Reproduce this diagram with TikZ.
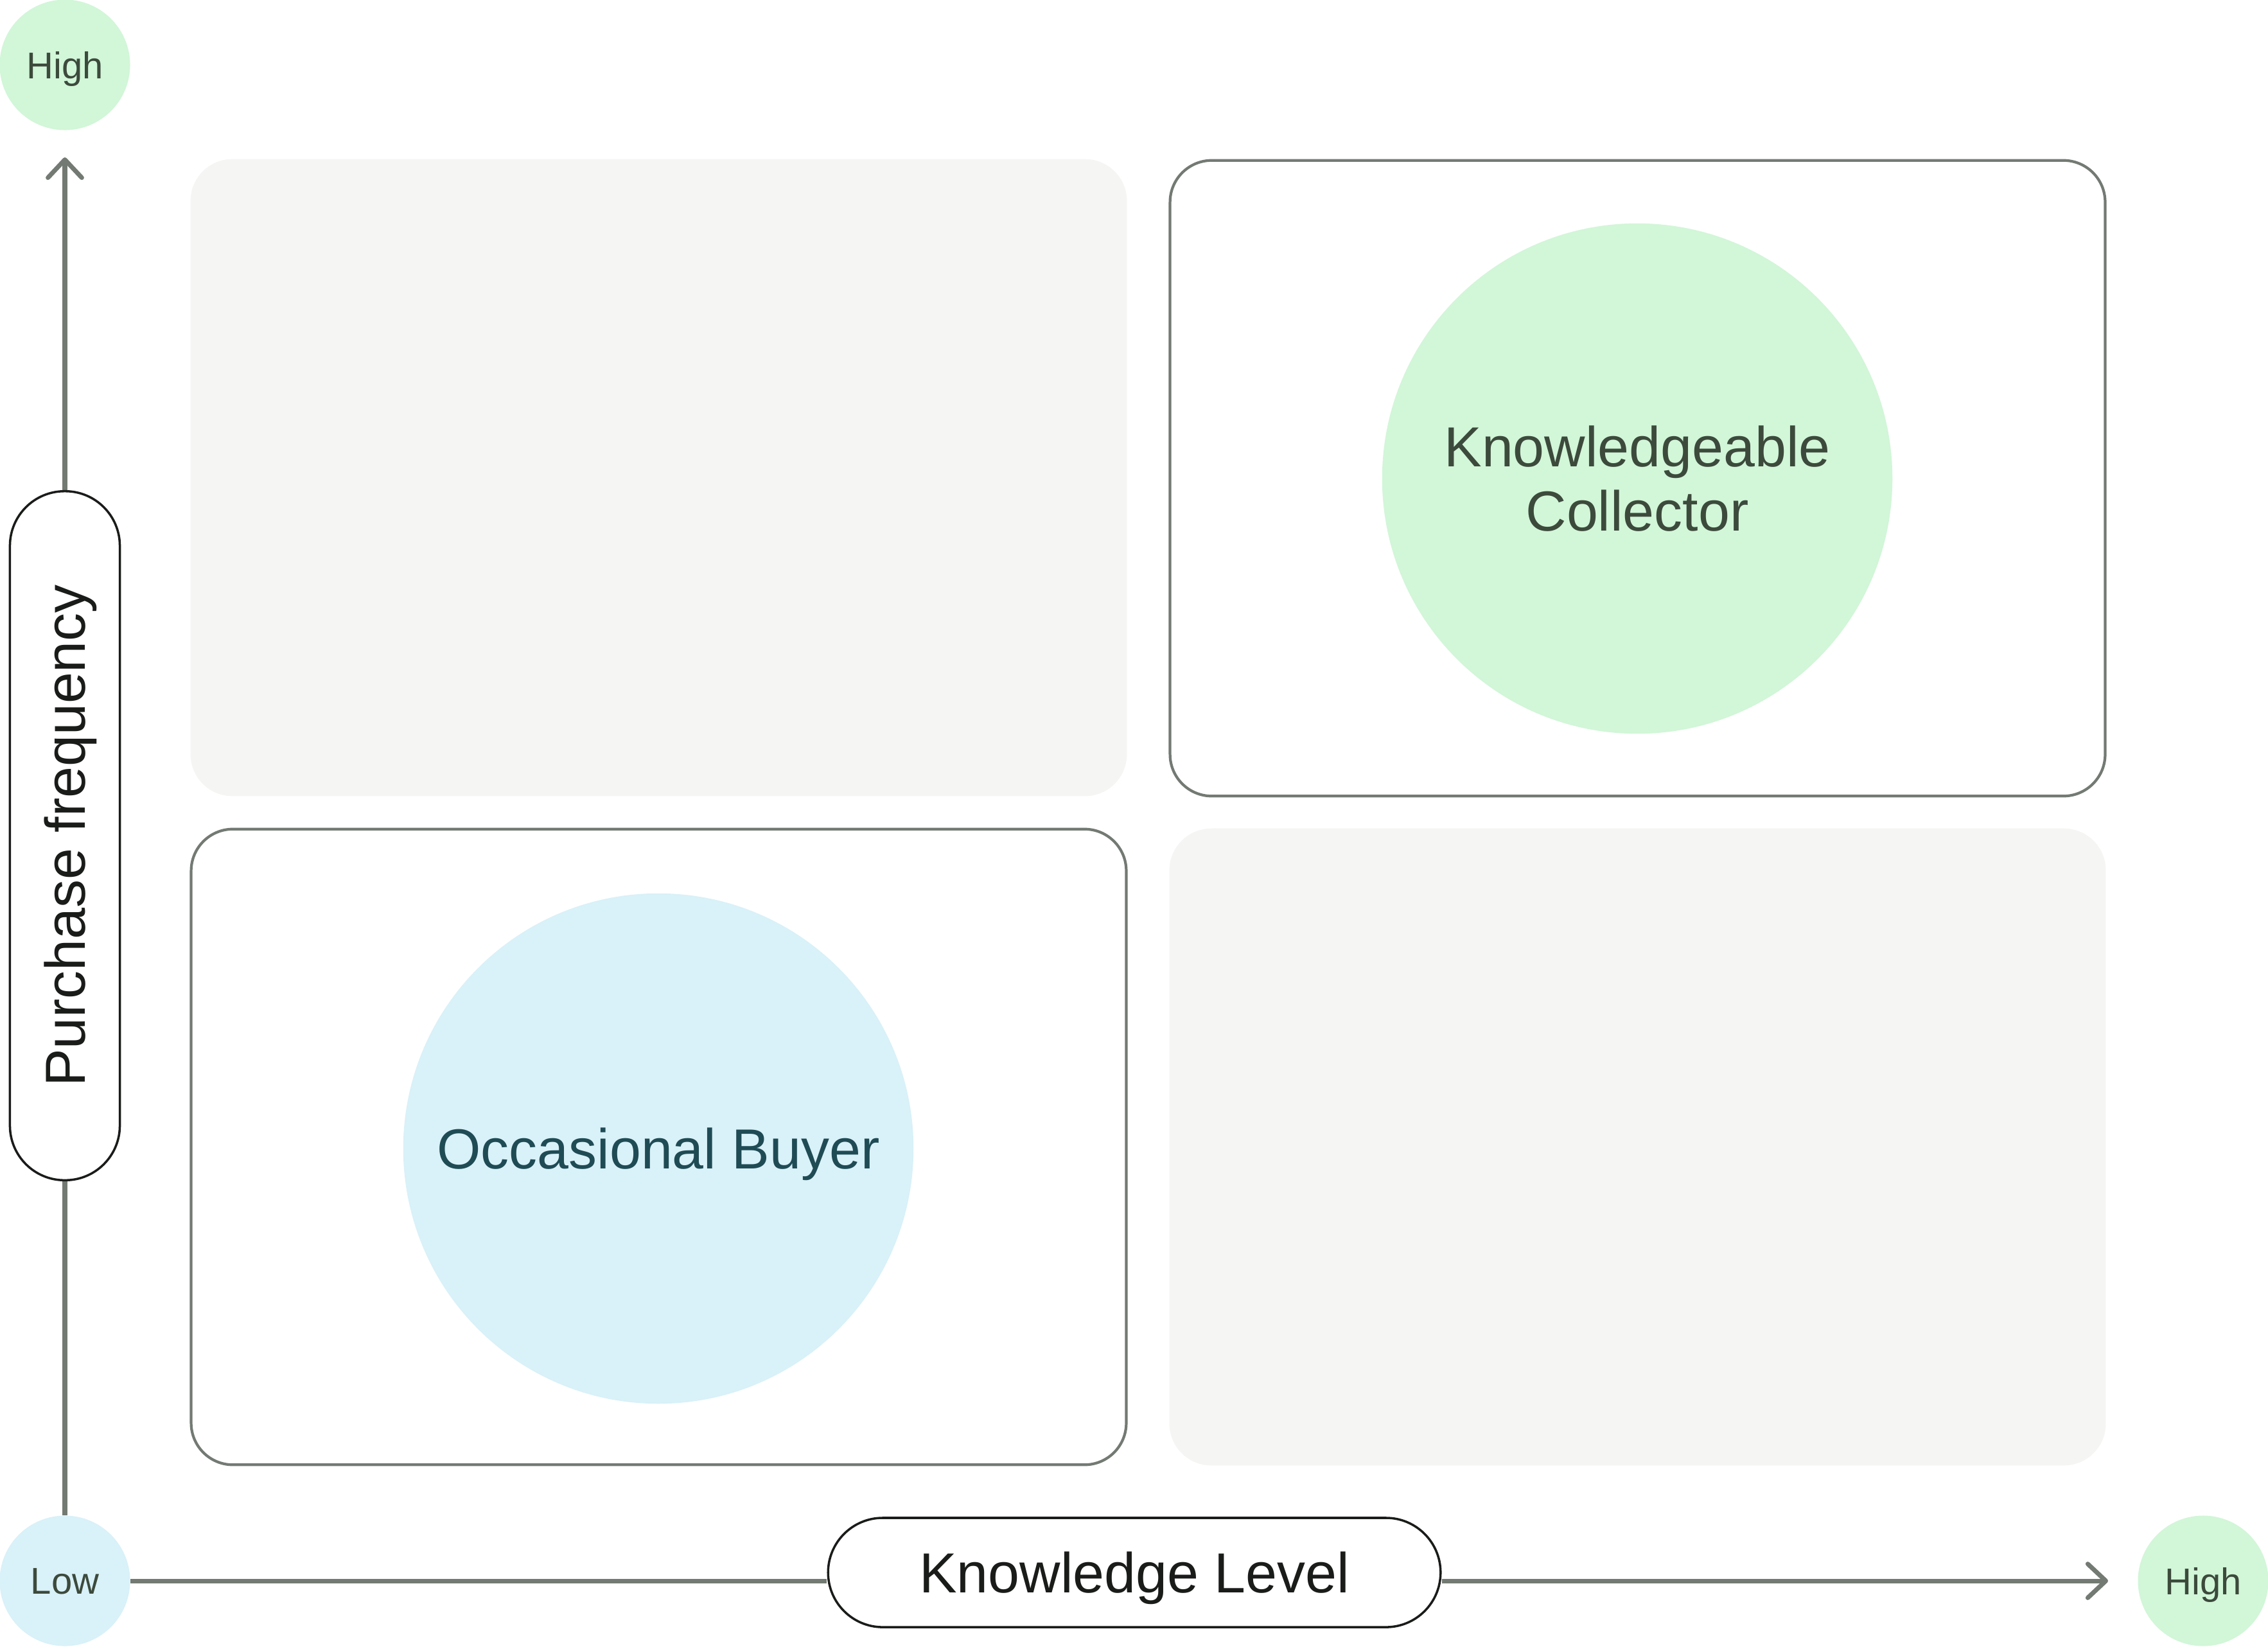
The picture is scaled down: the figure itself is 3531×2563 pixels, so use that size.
\documentclass[tikz,border=0pt]{standalone}
\usepackage{fontspec}
\setmainfont{Liberation Sans}
\usetikzlibrary{arrows.meta,backgrounds}
\definecolor{greenfill}{HTML}{D2F6D8}
\definecolor{bluefill}{HTML}{D9F1F8}
\definecolor{quadgray}{HTML}{F5F5F3}
\definecolor{axisgray}{HTML}{737A73}
\definecolor{greentext}{HTML}{3C4A3C}
\definecolor{tealtext}{HTML}{1F4B55}
\definecolor{pilltext}{HTML}{1A1C1A}
\tikzset{
  endcirc/.style={circle, inner sep=0pt, minimum size=2.03cm, text depth=0pt, text=greentext, font=\fontsize{16.5}{19}\selectfont},
  quadfill/.style={rectangle, fill=quadgray, rounded corners=0.65cm, minimum width=14.57cm, minimum height=9.91cm, inner sep=0pt},
  quadline/.style={rectangle, draw=axisgray, line width=1.2pt, fill=white, rounded corners=0.65cm, minimum width=14.55cm, minimum height=9.89cm, inner sep=0pt},
  bigcirc/.style={circle, inner sep=0pt, minimum size=7.94cm, align=center, font=\fontsize{25}{28.2}\selectfont},
  pill/.style={rectangle, draw=pilltext, line width=1pt, fill=white, rounded corners=0.85cm, text=pilltext, text depth=0pt, inner sep=0pt, font=\fontsize{25}{28}\selectfont},
  axis/.style={draw=axisgray, line width=2pt},
  axisarrow/.style={axis, -{Straight Barb[length=8pt,width=15pt,round]}}
}
\begin{document}
\begin{tikzpicture}[x=0.01cm,y=-0.01cm]
\useasboundingbox (0,0) rectangle (3531,2563);
% quadrants
\node[quadfill] (q1) at (1025.5,743.5) {};
\node[quadline] (q2) at (2549.5,744.5) {};
\node[quadline] (q3) at (1025.5,1785.5) {};
\node[quadfill] (q4) at (2549.5,1785.5) {};
% circles
\node[bigcirc, fill=greenfill, text=greentext] (kc) at (2549,745) {Knowledgeable\\Collector};
\node[bigcirc, fill=bluefill, text=tealtext, text depth=0pt] (ob) at (1025,1788) {Occasional Buyer};
% axis end circles
\node[endcirc, fill=greenfill] (hightop) at (101,101) {High};
\node[endcirc, fill=bluefill] (low) at (101,2461) {Low};
\node[endcirc, fill=greenfill] (highright) at (3430,2461) {High};
% axis labels
\node[pill, minimum width=9.53cm, minimum height=1.70cm] (kl) at (1766,2448) {Knowledge Level};
\node[pill, rotate=90, minimum width=10.72cm, minimum height=1.71cm] (pf) at (101,1301) {Purchase frequency};
% arrow tips
\coordinate (ytip) at (101,245);
\coordinate (xtip) at (3282,2461);
\begin{scope}[on background layer]
\draw[axis] (low.north) -- (pf.west);
\draw[axisarrow] (pf.east) -- (ytip);
\draw[axis] (low.east) -- (low.east -| kl.west);
\draw[axisarrow] (low.east -| kl.east) -- (xtip);
\end{scope}
\end{tikzpicture}
\end{document}
